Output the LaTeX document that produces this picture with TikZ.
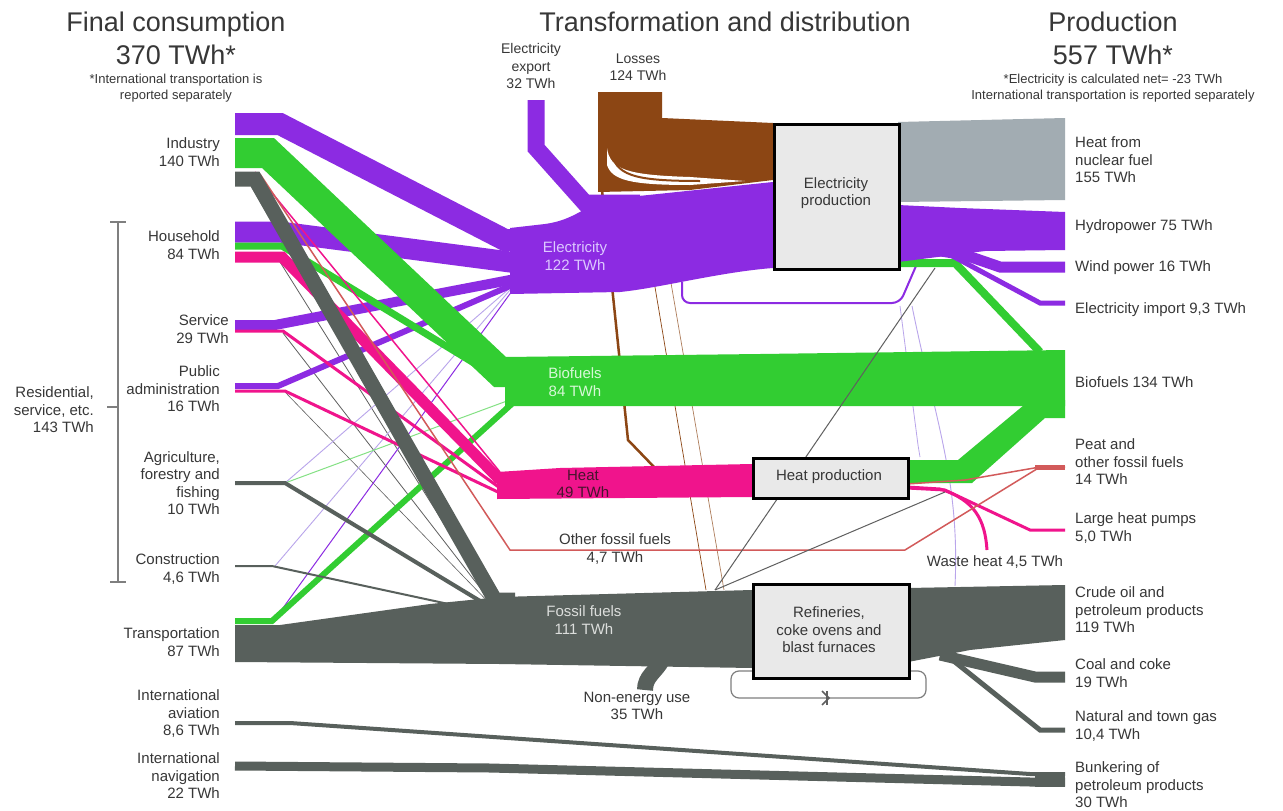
\documentclass[tikz,border=0pt]{standalone}
\usepackage{fontspec}
\setmainfont{Liberation Sans}
\definecolor{cpur}{RGB}{140,43,226}
\definecolor{cgrn}{RGB}{50,205,50}
\definecolor{cpnk}{RGB}{240,20,140}
\definecolor{cfos}{RGB}{88,96,92}
\definecolor{cbrn}{RGB}{140,70,20}
\definecolor{cnuc}{RGB}{162,172,178}
\definecolor{cred}{RGB}{210,90,90}
\definecolor{ctxt}{RGB}{55,55,55}
\definecolor{boxfill}{RGB}{233,233,233}
\definecolor{clav}{RGB}{185,165,235}
\definecolor{cthin}{RGB}{95,95,95}
\begin{document}
\begin{tikzpicture}[x=1pt,y=-1pt,
  fl/.style={line join=miter,line cap=butt},
  lab/.style={font=\fontsize{15}{17.5}\selectfont,text=ctxt,inner sep=0pt,align=right,anchor=east},
  rlab/.style={font=\fontsize{15}{17.5}\selectfont,text=ctxt,inner sep=0pt,align=left,anchor=west},
  clab/.style={font=\fontsize{15}{17.5}\selectfont,text=ctxt,inner sep=0pt,align=center},
  ttl/.style={font=\fontsize{27}{33}\selectfont,text=ctxt,inner sep=0pt,align=center},
  note/.style={font=\fontsize{13}{16.5}\selectfont,text=ctxt,inner sep=0pt,align=center},
  procbox/.style={draw=black,line width=3pt,fill=boxfill}]
\useasboundingbox (0,0) rectangle (1283,811);
\fill[white] (0,0) rectangle (1283,811);

% ---------- thin background lines ----------
\draw[cthin,line width=0.8] (280,262)--(495,605);
\draw[cthin,line width=0.8] (283,333)--(495,607);
\draw[cthin,line width=0.6] (285,392)--(495,609);
\draw[clav,line width=0.9] (285,483)--(510,288);
\draw[clav,line width=0.9] (275,566)--(510,290);
\draw[cpur,line width=1] (275,619)--(512,291);
\draw[cgrn!60,line width=1] (285,483)--(515,398);
\draw[cbrn,line width=0.7] (640,198)--(706,590);
\draw[cbrn!70,line width=0.7] (656,196)--(724,590);
\draw[clav,line width=0.9] (912,306) .. controls (935,420) and (960,480) .. (955,586);
\draw[clav,line width=0.8] (900,306)--(918,445)--(920,457);
\draw[cbrn,line width=2.5] (602,190)--(628,440)--(655,468);

% ---------- electricity ----------
\draw[fl,cpur,line width=22] (235,124)--(280,124)--(505,240)--(530,240);
\draw[fl,cpur,line width=21] (235,232)--(280,232)--(510,262)--(540,262);
\draw[fl,cpur,line width=10] (235,325)--(275,325)--(510,280)--(540,280);
\draw[fl,cpur,line width=6] (235,386)--(278,386)--(510,286)--(540,286);
\draw[fl,cpur,line width=17] (536,100)--(536,148)--(585,203)--(640,203);
\fill[cpur] (510,228)--(545,224) .. controls (575,220) and (585,205) .. (610,199) -- (773,182) -- (773,268) .. controls (720,272) and (660,288) .. (620,292) -- (510,294) -- cycle;
\draw[cpur,line width=2,rounded corners=8] (682,282)--(682,303)--(900,303)--(916,266);

% losses
\fill[cbrn] (598,92)--(662,92)--(662,118)--(773,123)--(773,180)--(690,190)--(598,192)--cycle;
\fill[white] (607,148) .. controls (610,170) and (628,175) .. (690,177) -- (745,181) -- (690,185) .. controls (630,185) and (612,180) .. (607,165) -- cycle;
\draw[cbrn,line width=2] (611,150) .. controls (615,175) and (632,181) .. (700,181);

% ---------- biofuels ----------
\draw[fl,cgrn,line width=30] (235,153)--(268,153)--(500,372)--(530,372);
\draw[fl,cgrn,line width=7] (235,246)--(282,246)--(505,382)--(530,382);
\draw[fl,cgrn,line width=6] (235,621)--(272,621)--(515,401)--(530,401);
\fill[cgrn] (505,357)--(760,354)--(1065,350)--(1065,406)--(760,406)--(505,406)--cycle;
\fill[cgrn] (907,460)--(958,460)--(1030,400)--(1065,400)--(1065,418)--(1045,418)--(972,483)--(907,483)--cycle;
\draw[fl,cgrn,line width=8] (898,263)--(955,263)--(1040,352);

% ---------- heat ----------
\draw[fl,cpnk,line width=1.5] (255,172)--(500,472);
\draw[fl,cpnk,line width=11] (235,257)--(282,257)--(498,478)--(520,478);
\draw[fl,cpnk,line width=3] (235,331)--(283,331)--(500,488)--(520,488);
\draw[fl,cpnk,line width=3] (235,391)--(285,391)--(500,493)--(520,493);
\fill[cpnk] (497,472)--(560,468)--(752,464)--(752,497)--(497,499)--cycle;
\draw[fl,cpnk,line width=3] (907,488)--(945,490)--(1030,530)--(1065,530);
\draw[fl,cpnk,line width=3] (907,487)--(940,489) .. controls (975,500) and (985,520) .. (987,550);

% other fossil fuels / peat
\draw[fl,cred,line width=1.5] (260,174)--(510,550)--(905,550)--(1040,467)--(1065,467);
\draw[fl,cred,line width=1.5] (907,484)--(965,480)--(1040,467);
\draw[fl,cred,line width=5] (1035,467)--(1065,467);

% ---------- fossil ----------
\draw[fl,cfos,line width=15] (235,179)--(255,179)--(495,600)--(515,600);
\draw[fl,cfos,line width=4] (235,483)--(285,483)--(495,610)--(515,610);
\draw[fl,cfos,line width=2] (235,566)--(272,566)--(495,614)--(515,614);
\fill[cfos] (235,625)--(280,625)--(430,604)--(500,597)--(752,590)--(752,668)--(500,664)--(235,662)--cycle;
\draw[cfos,line width=16] (662,660) .. controls (656,672) and (645,676) .. (645,690);
\fill[cfos] (908,588)--(1065,585)--(1065,640)--(970,650)--(908,662)--cycle;
\draw[fl,cfos,line width=11] (940,655)--(1035,677)--(1065,677);
\draw[fl,cfos,line width=5] (950,658)--(1040,730)--(1065,730);
\draw[fl,cfos,line width=4] (235,723)--(290,723)--(1030,774)--(1065,774);
\draw[fl,cfos,line width=9] (235,766)--(490,768)--(1030,782)--(1065,782);
\fill[cfos] (1035,772) rectangle (1065,787);

\draw[cthin,line width=1] (715,590)--(935,268);
\draw[cthin,line width=1] (715,590)--(945,492);

% refinery loop
\draw[cthin!80,line width=1.2,rounded corners=8] (752,671)--(731,671)--(731,698)--(926,698)--(926,671)--(908,671);
\draw[cthin,line width=1.6] (822,691)--(829,698)--(822,705);
\draw[cthin,line width=1.2] (827,691)--(827,705);

% ---------- production side ----------
\fill[cnuc] (898,122)--(1065,118)--(1065,200)--(898,202)--cycle;
\fill[cpur] (898,205)--(960,208)--(1065,212)--(1065,250)--(985,251)--(898,262)--cycle;
\draw[fl,cpur,line width=11] (935,250)--(965,255)--(1000,267)--(1065,267);
\draw[fl,cpur,line width=5] (945,252)--(1040,303)--(1065,303);

% ---------- boxes ----------
\node[procbox,minimum width=125,minimum height=145,anchor=north west] (ep) at (773,123) {};
\node[clab] (eplab) at (836,193) {Electricity\\production};
\node[procbox,minimum width=155,minimum height=40,anchor=north west] (hp) at (752,457) {};
\node[clab] (hplab) at (829,477) {Heat production};
\node[procbox,minimum width=156,minimum height=94,anchor=north west] (rf) at (752,583) {};
\node[clab] (rflab) at (829,630) {Refineries,\\coke ovens and\\blast furnaces};

% ---------- bracket ----------
\draw[cthin!80,line width=1.5] (110,222)--(126,222) (118,222)--(118,582) (110,582)--(126,582) (107,407)--(118,407);

% ---------- titles ----------
\node[ttl] (t1) at (176,38) {Final consumption\\370 TWh*};
\node[ttl] (t2) at (725,22) {Transformation and distribution};
\node[ttl] (t3) at (1113,38) {Production\\557 TWh*};
\node[note] (n1) at (176,88) {*International transportation is\\reported separately};
\node[note] (n3) at (1113,88) {*Electricity is calculated net= -23 TWh\\International transportation is reported separately};

% ---------- left labels ----------
\node[lab] (l1) at (220,152) {Industry\\140 TWh};
\node[lab] (l2) at (220,245) {Household\\84 TWh};
\node[lab] (l3) at (229,329) {Service\\29 TWh};
\node[lab] (l4) at (220,389) {Public\\administration\\16 TWh};
\node[lab] (l5) at (220,483) {Agriculture,\\forestry and\\fishing\\10 TWh};
\node[lab] (l6) at (220,569) {Construction\\4,6 TWh};
\node[lab] (l7) at (220,642) {Transportation\\87 TWh};
\node[lab] (l8) at (220,714) {International\\aviation\\8,6 TWh};
\node[lab] (l9) at (220,776) {International\\navigation\\22 TWh};
\node[lab] (l10) at (94,410) {Residential,\\service, etc.\\143 TWh};

% ---------- right labels ----------
\node[rlab] (r1) at (1075,160) {Heat from\\nuclear fuel\\155 TWh};
\node[rlab] (r2) at (1075,227) {Hydropower 75 TWh};
\node[rlab] (r3) at (1075,268) {Wind power 16 TWh};
\node[rlab] (r4) at (1075,310) {Electricity import 9,3 TWh};
\node[rlab] (r5) at (1075,382) {Biofuels 134 TWh};
\node[rlab] (r6) at (1075,462) {Peat and\\other fossil fuels\\14 TWh};
\node[rlab] (r7) at (1075,528) {Large heat pumps\\5,0 TWh};
\node[rlab] (r8) at (1075,610) {Crude oil and\\petroleum products\\119 TWh};
\node[rlab] (r9) at (1075,673) {Coal and coke\\19 TWh};
\node[rlab] (r10) at (1075,726) {Natural and town gas\\10,4 TWh};
\node[rlab] (r11) at (1075,785) {Bunkering of\\petroleum products\\30 TWh};

% ---------- middle labels ----------
\node[clab,font=\fontsize{14}{17.5}\selectfont] (m1) at (531,66) {Electricity\\export\\32 TWh};
\node[clab,font=\fontsize{14}{17.5}\selectfont] (m2) at (638,67) {Losses\\124 TWh};
\node[clab,text={rgb,255:red,220;green,200;blue,255}] (m3) at (575,256) {Electricity\\122 TWh};
\node[clab,text={rgb,255:red,215;green,248;blue,215}] (m4) at (575,382) {Biofuels\\84 TWh};
\node[clab,text={rgb,255:red,70;green,20;blue,45}] (m5) at (583,484) {Heat\\49 TWh};
\node[clab] (m6) at (615,549) {Other fossil fuels\\4,7 TWh};
\node[clab,text={rgb,255:red,220;green,222;blue,220}] (m7) at (584,620) {Fossil fuels\\111 TWh};
\node[clab] (m8) at (637,706) {Non-energy use\\35 TWh};
\node[clab] (m9) at (995,562) {Waste heat 4,5 TWh};
\end{tikzpicture}
\end{document}
